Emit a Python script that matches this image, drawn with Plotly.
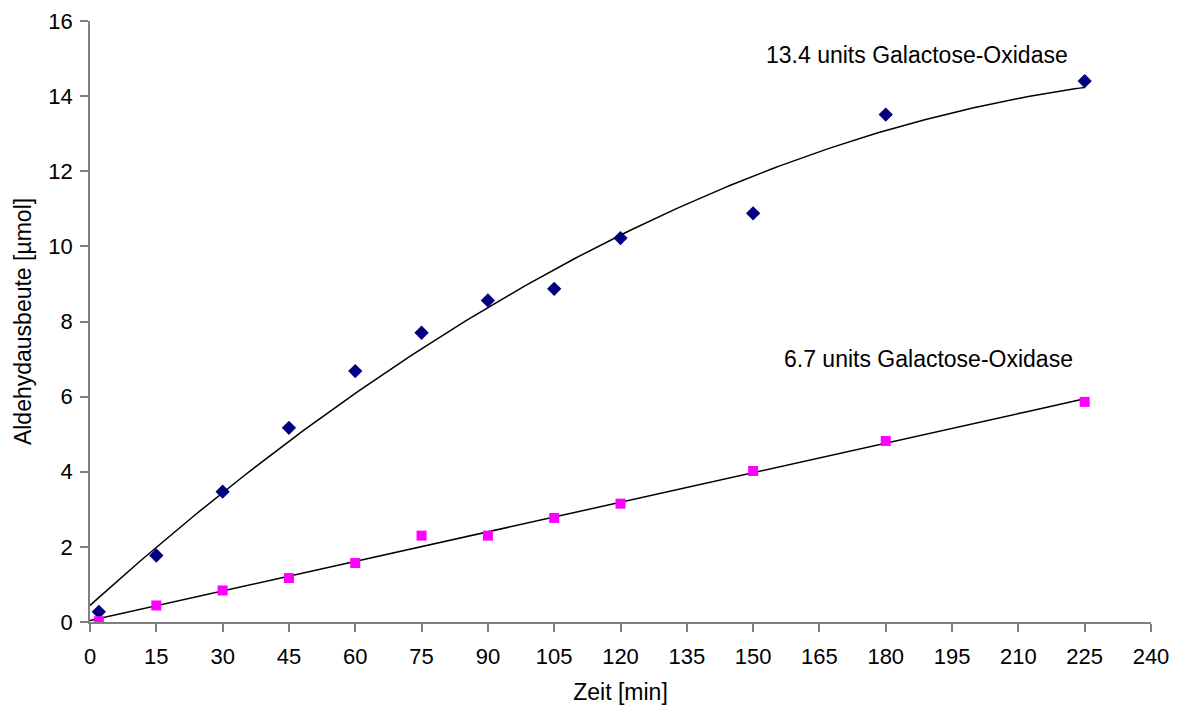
import numpy as np
import plotly.graph_objects as go

# Data
zeit = [2, 15, 30, 45, 60, 75, 90, 105, 120, 150, 180, 225]
ausbeute_13_4 = [0.27, 1.77, 3.47, 5.17, 6.68, 7.70, 8.56, 8.87, 10.22, 10.88, 13.51, 14.40]
ausbeute_6_7 = [0.02, 0.44, 0.84, 1.17, 1.57, 2.30, 2.30, 2.77, 3.15, 4.02, 4.82, 5.86]
label_13_4 = "13.4 units Galactose-Oxidase"
label_6_7 = "6.7 units Galactose-Oxidase"
x_ticks = list(range(0, 241, 15))
y_ticks = list(range(0, 17, 2))

FONT = "Liberation Sans, Arial, sans-serif"

# Trendlines (polynomial order 2 and linear), as in the original spreadsheet chart
xt = np.linspace(0, max(zeit), 200)
p2 = np.polyfit(zeit, ausbeute_13_4, 2)
p1 = np.polyfit(zeit, ausbeute_6_7, 1)

fig = go.Figure()
fig.add_trace(go.Scatter(x=xt, y=np.polyval(p2, xt), mode="lines",
                         line=dict(color="black", width=1.5), showlegend=False, hoverinfo="skip"))
fig.add_trace(go.Scatter(x=xt, y=np.polyval(p1, xt), mode="lines",
                         line=dict(color="black", width=1.5), showlegend=False, hoverinfo="skip"))
fig.add_trace(go.Scatter(x=zeit, y=ausbeute_13_4, mode="markers", name=label_13_4,
                         marker=dict(symbol="diamond", size=11, color="#000080"), showlegend=False))
fig.add_trace(go.Scatter(x=zeit, y=ausbeute_6_7, mode="markers", name=label_6_7,
                         marker=dict(symbol="square", size=10, color="#FF00FF"), showlegend=False))

fig.add_annotation(x=187, y=15.09, text=label_13_4, showarrow=False,
                   font=dict(family=FONT, size=23, color="black"))
fig.add_annotation(x=189.7, y=6.99, text=label_6_7, showarrow=False,
                   font=dict(family=FONT, size=23, color="black"))

axis_common = dict(showgrid=False, zeroline=False, showline=True, linecolor="#808080",
                   linewidth=1.5, ticks="outside", ticklen=8, tickcolor="#808080", tickwidth=1.5,
                   tickfont=dict(family=FONT, size=22, color="black"), automargin=False)

fig.update_xaxes(range=[0, 240], tickvals=x_ticks, ticktext=[str(v) for v in x_ticks],
                 ticklabelstandoff=6,
                 title=dict(text="Zeit [min]", font=dict(family=FONT, size=23, color="black"), standoff=16),
                 **axis_common)
fig.update_yaxes(range=[0, 16], tickvals=y_ticks, ticktext=[str(v) for v in y_ticks],
                 ticklabelstandoff=3,
                 title=dict(text="Aldehydausbeute [µmol]", font=dict(family=FONT, size=23, color="black"), standoff=10),
                 **axis_common)

fig.update_layout(width=1179, height=705, paper_bgcolor="white", plot_bgcolor="white",
                  margin=dict(l=82, r=36, t=13, b=91), font=dict(family=FONT))

fig.write_html("out.html")
